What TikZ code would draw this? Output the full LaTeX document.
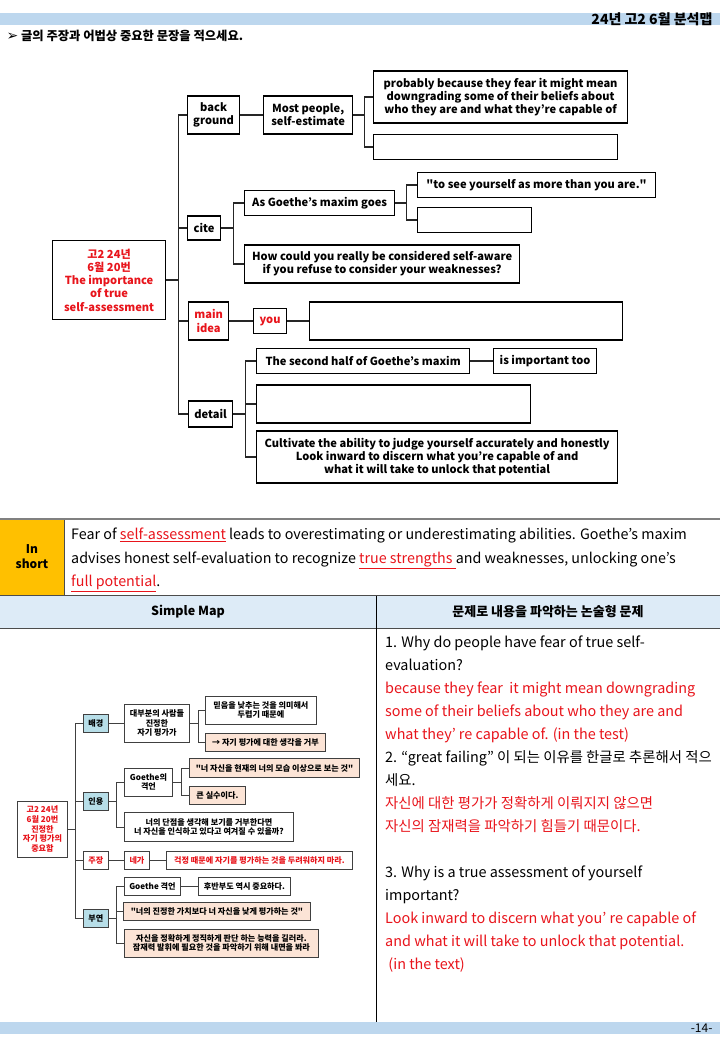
\documentclass[tikz,border=0pt]{standalone}
\usepackage{fontspec}
\setmainfont{Noto Sans CJK KR}
\newfontfamily\symfont{DejaVu Sans}
\usepackage{xcolor}
\usetikzlibrary{positioning,calc}
\definecolor{bandblue}{HTML}{BDD7EE}
\definecolor{headblue}{HTML}{DDEBF7}
\definecolor{shortyellow}{HTML}{FFC000}
\definecolor{mapred}{HTML}{E8141B}
\definecolor{catblue}{HTML}{B7DEE8}
\definecolor{peachfill}{HTML}{FCE4D6}
\newcommand{\treefont}{\bfseries\fontsize{11.1}{13.2}\selectfont}
\newcommand{\mapfont}{\bfseries\fontsize{8.1}{9.8}\selectfont}
\tikzset{
  tbox/.style={rectangle, draw=black, line width=1.2pt, fill=white, anchor=west,
    align=center, font=\treefont, inner sep=1.5pt},
  redtext/.style={text=mapred},
  link/.style={line width=1.2pt, draw=black!85},
  sbox/.style={rectangle, draw=black!75, line width=0.9pt, fill=white, anchor=west,
    align=center, font=\mapfont, inner sep=1pt},
  catbox/.style={sbox, fill=catblue},
  peachbox/.style={sbox, fill=peachfill},
  slink/.style={line width=0.9pt, draw=black!75},
}

\begin{document}
\begin{tikzpicture}[x=1pt, y=-1pt]
  \useasboundingbox (0,0) rectangle (720,1040);
  % ── page header ───────────────────────────────────────────────────
  \fill[bandblue] (0,13) rectangle (720,25);
  \node[anchor=east, font=\bfseries\fontsize{14}{15}\selectfont] (title) at (716,19) {24년 고2 6월 분석맵};
  \node[anchor=west, font=\bfseries\fontsize{12.3}{13}\selectfont] (task) at (3,36)
    {{\symfont\fontsize{14}{14}\selectfont ➢} 글의 주장과 어법상 중요한 문장을 적으세요.};
  % ── big tree: root and first level ────────────────────────────────
  \node[tbox, redtext, minimum width=113, minimum height=79] (root) at (52,280)
    {고2 24년\\6월 20번\\The importance\\of true\\self-assessment};
  \node[tbox, minimum width=52, minimum height=38] (bg) at (187,115) {back\\ground};
  \node[tbox, minimum width=33, minimum height=24] (cite) at (187,228) {cite};
  \node[tbox, redtext, minimum width=40, minimum height=38] (main) at (188,321) {main\\idea};
  \node[tbox, minimum width=44, minimum height=26] (det) at (188,414) {detail};
  % background branch
  \node[tbox, minimum width=89, minimum height=38] (ms) at (263,115) {Most people,\\self-estimate};
  \node[tbox, minimum width=254, minimum height=52] (prob) at (373,97)
    {probably because they fear it might mean\\downgrading some of their beliefs about\\who they are and what they're capable of};
  \node[tbox, minimum width=244, minimum height=25] (emp1) at (373,147) {};
  % cite branch
  \node[tbox, minimum width=150, minimum height=25] (goethe) at (244,203) {As Goethe's maxim goes};
  \node[tbox, minimum width=238, minimum height=25] (see) at (417,185) {\textquotedbl to see yourself as more than you are.\textquotedbl};
  \node[tbox, minimum width=114, minimum height=25] (emp2) at (417,220) {};
  \node[tbox, minimum width=275, minimum height=38] (how) at (244,264)
    {How could you really be considered self-aware\\if you refuse to consider your weaknesses?};
  % main idea branch
  \node[tbox, redtext, minimum width=33, minimum height=25] (you) at (253,321) {you};
  \node[tbox, minimum width=313, minimum height=38] (emp3) at (309,321) {};
  % detail branch
  \node[tbox, minimum width=213, minimum height=25] (half) at (256,361) {The second half of Goethe's maxim};
  \node[tbox, minimum width=103, minimum height=25] (imp) at (493,361) {is important too};
  \node[tbox, minimum width=274, minimum height=38] (emp4) at (256,404) {};
  \node[tbox, minimum width=361, minimum height=52] (cult) at (256,457)
    {Cultivate the ability to judge yourself accurately and honestly\\Look inward to discern what you're capable of and\\what it will take to unlock that potential};
  % ── big tree: connectors ──────────────────────────────────────────
  \draw[link] (root.east) -- ++(12,0) coordinate (spine);
  \draw[link] (spine) |- (bg.west) (spine) |- (cite.west) (spine) |- (main.west) (spine) |- (det.west);
  \draw[link] (bg) -- (ms);
  \draw[link] (ms.east) -- ++(11,0) coordinate (msfork);
  \draw[link] (msfork) |- (prob.west) (msfork) |- (emp1.west);
  \draw[link] (cite.east) -- ++(12,0) coordinate (citefork);
  \draw[link] (citefork) |- (goethe.west) (citefork) |- (how.west);
  \draw[link] (goethe.east) -- ++(11,0) coordinate (gfork);
  \draw[link] (gfork) |- (see.west) (gfork) |- (emp2.west);
  \draw[link] (main) -- (you);
  \draw[link] (you) -- (emp3);
  \draw[link] (det.east) -- ++(12,0) coordinate (detfork);
  \draw[link] (detfork) |- (half.west) (detfork) |- (emp4.west) (detfork) |- (cult.west);
  \draw[link] (half) -- (imp);
  % ── in short ──────────────────────────────────────────────────────
  \draw[black!50, line width=1.5pt] (0,519) -- (720,519);
  \fill[shortyellow] (0,520) rectangle (64,595);
  \draw[black!70, line width=0.6pt] (64,520) -- (64,595);
  \node[font=\bfseries\fontsize{12}{15}\selectfont, align=center] (short) at (32,557) {In\\short};
  \node[anchor=north west, align=left, font=\fontsize{14.3}{23.5}\selectfont, inner sep=0pt] (summary) at (71,528)
    {Fear of \textcolor{mapred}{\underline{self-assessment}} leads to overestimating or underestimating abilities. Goethe's maxim\\
     advises honest self-evaluation to recognize \textcolor{mapred}{\underline{true strengths\ }}and weaknesses, unlocking one's\\
     \textcolor{mapred}{\underline{full potential}}.};
  % ── table head ────────────────────────────────────────────────────
  \draw[black!70, line width=0.8pt] (0,595.5) -- (720,595.5);
  \fill[headblue] (0,596) rectangle (720,628);
  \draw[black!70, line width=0.6pt] (0,628) -- (720,628);
  \draw[black, line width=0.6pt] (376,596) -- (376,1022);
  \node[font=\bfseries\fontsize{12.5}{13}\selectfont] (maphead) at (188,612) {Simple Map};
  \node[font=\bfseries\fontsize{13}{14}\selectfont] (qhead) at (548,612) {문제로 내용을 파악하는 논술형 문제};
  % ── simple map: nodes ─────────────────────────────────────────────
  \node[sbox, redtext, minimum width=50, minimum height=56] (sroot) at (17,829)
    {고2 24년\\6월 20번\\진정한\\자기 평가의\\중요함};
  \node[catbox, minimum width=25, minimum height=18] (bae) at (83,723) {배경};
  \node[catbox, minimum width=25, minimum height=18] (inyong) at (83,801) {인용};
  \node[sbox, redtext, minimum width=25, minimum height=18] (jujang) at (83,860) {주장};
  \node[catbox, minimum width=25, minimum height=18] (buyeon) at (83,918) {부연};
  \node[sbox, minimum width=65, minimum height=38] (many) at (124,723) {대부분의 사람들\\진정한\\자기 평가가};
  \node[sbox, minimum width=111, minimum height=28] (belief) at (205,710) {믿음을 낮추는 것을 의미해서\\두렵기 때문에};
  \node[peachbox, minimum width=120, minimum height=18] (refuse) at (205,742) {→ 자기 평가에 대한 생각을 거부};
  \node[sbox, minimum width=48, minimum height=28] (sgoethe) at (124,782) {Goethe의\\격언};
  \node[peachbox, minimum width=170, minimum height=19] (selfq) at (189,768) {\textquotedbl 너 자신을 현재의 너의 모습 이상으로 보는 것\textquotedbl};
  \node[peachbox, minimum width=56, minimum height=18] (mistake) at (189,795) {큰 실수이다.};
  \node[sbox, minimum width=169, minimum height=29] (weak) at (124,827)
    {너의 단점을 생각해 보기를 거부한다면\\너 자신을 인식하고 있다고 여겨질 수 있을까?};
  \node[sbox, redtext, minimum width=25, minimum height=18] (nega) at (124,860) {네가};
  \node[sbox, redtext, minimum width=186, minimum height=18] (dont) at (166,860) {걱정 때문에 자기를 평가하는 것을 두려워하지 마라.};
  \node[sbox, minimum width=56, minimum height=18] (sgoethe2) at (124,886) {Goethe 격언};
  \node[sbox, minimum width=92, minimum height=18] (latter) at (198,886) {후반부도 역시 중요하다.};
  \node[peachbox, minimum width=187, minimum height=18] (under) at (123,911) {\textquotedbl 너의 진정한 가치보다 너 자신을 낮게 평가하는 것\textquotedbl};
  \node[peachbox, minimum width=194, minimum height=28] (judge) at (124,943)
    {자신을 정확하게 정직하게 판단 하는 능력을 길러라.\\잠재력 발휘에 필요한 것을 파악하기 위해 내면을 봐라};
  % ── simple map: connectors ────────────────────────────────────────
  \draw[slink] (sroot.east) -- ++(8,0) coordinate (sspine);
  \draw[slink] (sspine) |- (bae.west) (sspine) |- (inyong.west) (sspine) |- (jujang.west) (sspine) |- (buyeon.west);
  \draw[slink] (bae) -- (many);
  \draw[slink] (many.east) -- ++(9,0) coordinate (manyfork);
  \draw[slink] (manyfork) |- (belief.west) (manyfork) |- (refuse.west);
  \draw[slink] (inyong.east) -- ++(8,0) coordinate (infork);
  \draw[slink] (infork) |- (sgoethe.west) (infork) |- (weak.west);
  \draw[slink] (sgoethe.east) -- ++(9,0) coordinate (sgfork);
  \draw[slink] (sgfork) |- (selfq.west) (sgfork) |- (mistake.west);
  \draw[slink] (jujang) -- (nega);
  \draw[slink] (nega) -- (dont);
  \draw[slink] (buyeon.east) -- ++(8,0) coordinate (bufork);
  \draw[slink] (bufork) |- (sgoethe2.west) (bufork) |- (under.west) (bufork) |- (judge.west);
  \draw[slink] (sgoethe2) -- (latter);
  % ── questions column ──────────────────────────────────────────────
  \node[anchor=north west, align=left, font=\fontsize{14.4}{23}\selectfont, inner sep=0pt] (questions) at (385,636)
    {1. Why do people have fear of true self-\\
     evaluation?\\
     \textcolor{mapred}{because they fear\ \ it might mean downgrading}\\
     \textcolor{mapred}{some of their beliefs about who they are and}\\
     \textcolor{mapred}{what they' re capable of. (in the test)}\\
     2. “great failing” 이 되는 이유를 한글로 추론해서 적으\\
     세요.\\
     \textcolor{mapred}{자신에 대한 평가가 정확하게 이뤄지지 않으면}\\
     \textcolor{mapred}{자신의 잠재력을 파악하기 힘들기 때문이다.}\\
     \mbox{}\\
     3. Why is a true assessment of yourself\\
     important?\\
     \textcolor{mapred}{Look inward to discern what you’ re capable of}\\
     \textcolor{mapred}{and what it will take to unlock that potential.}\\
     \textcolor{mapred}{\ (in the text)}};
  % ── page footer ───────────────────────────────────────────────────
  \fill[bandblue] (0,1022) rectangle (720,1034);
  \node[anchor=east, font=\fontsize{12}{13}\selectfont] (page) at (716,1028) {-14-};
\end{tikzpicture}
\end{document}
